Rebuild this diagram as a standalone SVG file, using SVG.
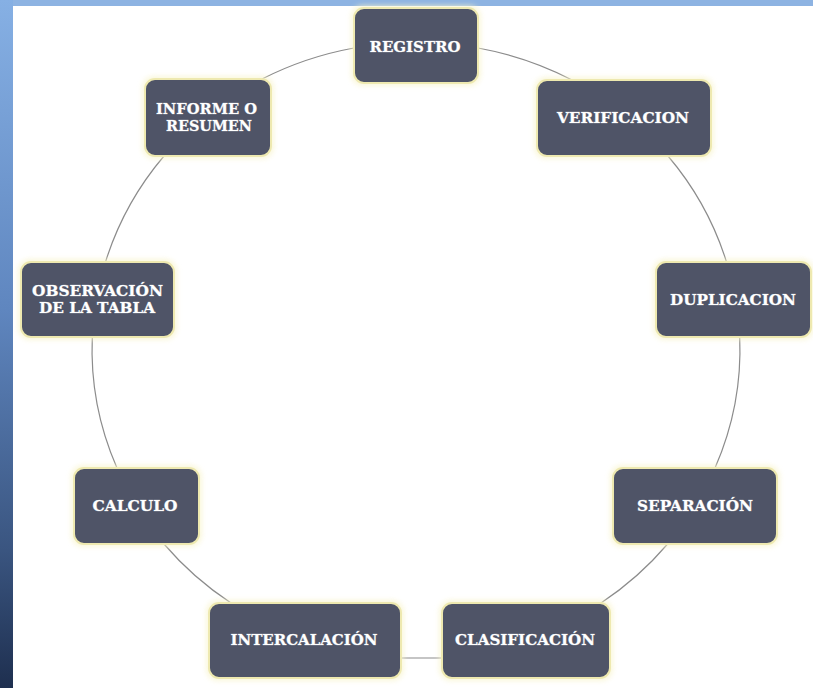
<svg xmlns="http://www.w3.org/2000/svg" width="813" height="688" viewBox="0 0 813 688">
  <defs>
    <linearGradient id="side" x1="0" y1="0" x2="0" y2="1">
      <stop offset="0" stop-color="#86b0e4"/>
      <stop offset="0.45" stop-color="#5f86bf"/>
      <stop offset="0.8" stop-color="#3a5580"/>
      <stop offset="1" stop-color="#1e2f4f"/>
    </linearGradient>
    <filter id="glow" x="-20%" y="-20%" width="140%" height="140%">
      <feGaussianBlur stdDeviation="2.5"/>
    </filter>
    <style>
      .conn { fill: none; stroke: #8c8c8c; stroke-width: 1.2; }
      .halo { fill: #f8f4cc; opacity: 0.7; filter: url(#glow); }
      .box { fill: #4f5467; stroke: #eee9b0; stroke-width: 2; }
      .lbl { font-family: "DejaVu Serif", "Liberation Serif", serif; font-weight: bold; font-size: 15px; fill: #ffffff; text-anchor: middle; stroke: #a4a9b4; stroke-width: 0.6; paint-order: stroke; }
    </style>
  </defs>

  <rect x="0" y="0" width="813" height="688" fill="#ffffff"/>
  <rect x="0" y="0" width="813" height="6" fill="#8db3e2"/>
  <rect x="0" y="0" width="13" height="688" fill="url(#side)"/>

  <g id="connectors">
    <path class="conn" d="M478,48 A324,308 0 0 1 572,80"/>
    <path class="conn" d="M668,156 A324,308 0 0 1 726.5,262"/>
    <path class="conn" d="M739.7,337 A324,308 0 0 1 715,468"/>
    <path class="conn" d="M667.6,544 A324,308 0 0 1 601,603"/>
    <path class="conn" d="M442,658 L401,658"/>
    <path class="conn" d="M231,603 A324,308 0 0 1 164,544"/>
    <path class="conn" d="M117,468 A324,308 0 0 1 92.3,337"/>
    <path class="conn" d="M105.5,262 A324,308 0 0 1 164,156"/>
    <path class="conn" d="M262,79 A324,308 0 0 1 354,48"/>
  </g>

  <g id="registro">
    <rect class="halo" x="351" y="5" width="130" height="81" rx="12"/>
    <rect class="box" x="354" y="8" width="124" height="75" rx="10"/>
    <text class="lbl" x="415" y="51.5" textLength="91" lengthAdjust="spacingAndGlyphs">REGISTRO</text>
  </g>

  <g id="verificacion">
    <rect class="halo" x="534" y="77" width="180" height="82" rx="12"/>
    <rect class="box" x="537" y="80" width="174" height="76" rx="10"/>
    <text class="lbl" x="623" y="122.5" textLength="132" lengthAdjust="spacingAndGlyphs">VERIFICACION</text>
  </g>

  <g id="duplicacion">
    <rect class="halo" x="653" y="259" width="161" height="81" rx="12"/>
    <rect class="box" x="656" y="262" width="155" height="75" rx="10"/>
    <text class="lbl" x="733" y="304.5" textLength="126" lengthAdjust="spacingAndGlyphs">DUPLICACION</text>
  </g>

  <g id="separacion">
    <rect class="halo" x="610" y="465" width="170" height="82" rx="12"/>
    <rect class="box" x="613" y="468" width="164" height="76" rx="10"/>
    <text class="lbl" x="695" y="510.5" textLength="116" lengthAdjust="spacingAndGlyphs">SEPARACIÓN</text>
  </g>

  <g id="clasificacion">
    <rect class="halo" x="439" y="600" width="174" height="81" rx="12"/>
    <rect class="box" x="442" y="603" width="168" height="75" rx="10"/>
    <text class="lbl" x="525" y="644.5" textLength="140" lengthAdjust="spacingAndGlyphs">CLASIFICACIÓN</text>
  </g>

  <g id="intercalacion">
    <rect class="halo" x="206" y="600" width="198" height="81" rx="12"/>
    <rect class="box" x="209" y="603" width="192" height="75" rx="10"/>
    <text class="lbl" x="304" y="644.5" textLength="147" lengthAdjust="spacingAndGlyphs">INTERCALACIÓN</text>
  </g>

  <g id="calculo">
    <rect class="halo" x="71" y="465" width="131" height="82" rx="12"/>
    <rect class="box" x="74" y="468" width="125" height="76" rx="10"/>
    <text class="lbl" x="135" y="510.5" textLength="85" lengthAdjust="spacingAndGlyphs">CALCULO</text>
  </g>

  <g id="observacion">
    <rect class="halo" x="18" y="259" width="159" height="81" rx="12"/>
    <rect class="box" x="21" y="262" width="153" height="75" rx="10"/>
    <text class="lbl" x="97.5" y="295.5" textLength="131" lengthAdjust="spacingAndGlyphs">OBSERVACIÓN</text>
    <text class="lbl" x="97" y="313" textLength="116" lengthAdjust="spacingAndGlyphs">DE LA TABLA</text>
  </g>

  <g id="informe">
    <rect class="halo" x="142" y="76" width="132" height="83" rx="12"/>
    <rect class="box" x="145" y="79" width="126" height="77" rx="10"/>
    <text class="lbl" x="206.5" y="113.5" textLength="101" lengthAdjust="spacingAndGlyphs">INFORME O</text>
    <text class="lbl" x="209" y="131" textLength="86" lengthAdjust="spacingAndGlyphs">RESUMEN</text>
  </g>
</svg>
